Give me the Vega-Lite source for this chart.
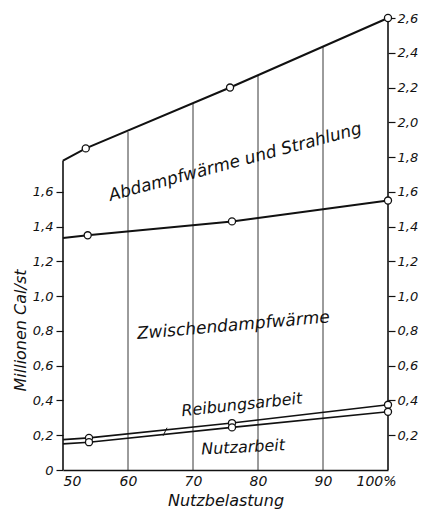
{
  "$schema": "https://vega.github.io/schema/vega-lite/v6.json",
  "width": 325,
  "height": 452,
  "autosize": {"type": "none"},
  "padding": {"left": 63, "top": 18, "right": 38, "bottom": 41},
  "background": "white",
  "config": {
    "font": "DejaVu Sans",
    "view": {"stroke": null},
    "axis": {
      "labelFont": "DejaVu Sans",
      "labelFontStyle": "italic",
      "labelFontSize": 13,
      "labelColor": "#111",
      "titleFont": "DejaVu Sans",
      "titleFontStyle": "italic",
      "titleFontWeight": "normal",
      "titleFontSize": 16,
      "titleColor": "#111",
      "tickColor": "#111",
      "domainColor": "#111"
    }
  },
  "datasets": {
    "curves": [
      {"series": "Abdampfwärme und Strahlung", "x": 50, "y": 1.78},
      {"series": "Abdampfwärme und Strahlung", "x": 53.5, "y": 1.85},
      {"series": "Abdampfwärme und Strahlung", "x": 75.7, "y": 2.2},
      {"series": "Abdampfwärme und Strahlung", "x": 100, "y": 2.6},
      {"series": "Zwischendampfwärme", "x": 50, "y": 1.335},
      {"series": "Zwischendampfwärme", "x": 53.8, "y": 1.35},
      {"series": "Zwischendampfwärme", "x": 76, "y": 1.43},
      {"series": "Zwischendampfwärme", "x": 100, "y": 1.55},
      {"series": "Reibungsarbeit", "x": 50, "y": 0.175},
      {"series": "Reibungsarbeit", "x": 54, "y": 0.185},
      {"series": "Reibungsarbeit", "x": 76, "y": 0.27},
      {"series": "Reibungsarbeit", "x": 100, "y": 0.375},
      {"series": "Nutzarbeit", "x": 50, "y": 0.15},
      {"series": "Nutzarbeit", "x": 54, "y": 0.16},
      {"series": "Nutzarbeit", "x": 76, "y": 0.245},
      {"series": "Nutzarbeit", "x": 100, "y": 0.335}
    ],
    "verticals": [
      {"kind": "frame", "x": 50, "top": 1.78},
      {"kind": "inner", "x": 60, "top": 1.944},
      {"kind": "inner", "x": 70, "top": 2.108},
      {"kind": "inner", "x": 80, "top": 2.272},
      {"kind": "inner", "x": 90, "top": 2.436},
      {"kind": "frame", "x": 100, "top": 2.6}
    ],
    "annotations": [
      {"text": "Abdampfwärme und Strahlung", "x": 76.5, "y": 1.77},
      {"text": "Zwischendampfwärme", "x": 76.2, "y": 0.83},
      {"text": "Reibungsarbeit", "x": 77.5, "y": 0.375},
      {"text": "Nutzarbeit", "x": 77.7, "y": 0.13}
    ],
    "pointer": [
      {"x": 65.4, "x2": 66.0, "y": 0.197, "y2": 0.243}
    ]
  },
  "encoding": {
    "x": {
      "field": "x",
      "type": "quantitative",
      "scale": {"domain": [50, 100], "nice": false, "zero": false},
      "axis": {
        "orient": "bottom",
        "values": [50, 60, 70, 80, 90, 100],
        "labelExpr": "datum.value == 100 ? '100%' : datum.label",
        "labelOffset": {"condition": {"test": "datum.value == 100", "value": 8}, "value": 0},
        "ticks": false,
        "grid": false,
        "domain": true,
        "domainWidth": 1.6,
        "labelPadding": 4,
        "labelFontSize": 14,
        "title": "Nutzbelastung",
        "titlePadding": 4
      }
    },
    "y": {
      "field": "y",
      "type": "quantitative",
      "scale": {"domain": [0, 2.6], "nice": false, "zero": false},
      "axis": null
    }
  },
  "layer": [
    {
      "data": {"name": "verticals"},
      "transform": [{"filter": "datum.kind == 'inner'"}],
      "mark": {"type": "rule", "color": "#222", "strokeWidth": 0.9},
      "encoding": {
        "y": {
          "field": "top",
          "type": "quantitative",
          "scale": {"domain": [0, 2.6], "nice": false, "zero": false},
          "axis": {
            "orient": "left",
            "values": [0, 0.2, 0.4, 0.6, 0.8, 1.0, 1.2, 1.4, 1.6],
            "labelExpr": "datum.value == 0 ? '0' : replace(format(datum.value, '.1f'), '.', ',')",
            "domain": false,
            "grid": false,
            "tickSize": 7,
            "tickWidth": 1.2,
            "labelPadding": 3,
            "title": "Millionen Cal/st",
            "titleY": 312,
            "titlePadding": 4
          }
        },
        "y2": {"datum": 0}
      }
    },
    {
      "data": {"name": "verticals"},
      "transform": [{"filter": "datum.kind == 'frame'"}],
      "mark": {"type": "rule", "color": "#111", "strokeWidth": 1.6},
      "encoding": {
        "y": {"field": "top", "type": "quantitative", "scale": {"domain": [0, 2.6], "nice": false, "zero": false}, "axis": null},
        "y2": {"datum": 0}
      }
    },
    {
      "data": {"name": "curves"},
      "transform": [{"filter": "datum.series == 'Abdampfwärme und Strahlung' || datum.series == 'Zwischendampfwärme'"}],
      "mark": {"type": "line", "color": "#111", "strokeWidth": 2},
      "encoding": {
        "detail": {"field": "series"},
        "y": {
          "field": "y",
          "type": "quantitative",
          "scale": {"domain": [0, 2.6], "nice": false, "zero": false},
          "axis": {
            "orient": "right",
            "values": [0.2, 0.4, 0.6, 0.8, 1.0, 1.2, 1.4, 1.6, 1.8, 2.0, 2.2, 2.4, 2.6],
            "labelExpr": "replace(format(datum.value, '.1f'), '.', ',')",
            "domain": false,
            "grid": false,
            "tickSize": 7,
            "tickWidth": 1.2,
            "labelPadding": 2,
            "title": null
          }
        }
      }
    },
    {
      "data": {"name": "curves"},
      "transform": [{"filter": "datum.series == 'Reibungsarbeit' || datum.series == 'Nutzarbeit'"}],
      "mark": {"type": "line", "color": "#111", "strokeWidth": 1.6},
      "encoding": {"detail": {"field": "series"}}
    },
    {
      "data": {"name": "curves"},
      "transform": [{"filter": "datum.x > 50"}],
      "mark": {"type": "point", "shape": "circle", "filled": true, "fill": "white", "stroke": "#111", "strokeWidth": 1.3, "size": 50, "opacity": 1},
      "encoding": {}
    },
    {
      "data": {"name": "annotations"},
      "transform": [{"filter": "datum.text == 'Abdampfwärme und Strahlung'"}],
      "mark": {"type": "text", "font": "DejaVu Sans", "fontStyle": "italic", "fontSize": 17, "angle": -15, "color": "#111"},
      "encoding": {"text": {"field": "text"}}
    },
    {
      "data": {"name": "annotations"},
      "transform": [{"filter": "datum.text == 'Zwischendampfwärme'"}],
      "mark": {"type": "text", "font": "DejaVu Sans", "fontStyle": "italic", "fontSize": 17, "angle": -5, "color": "#111"},
      "encoding": {"text": {"field": "text"}}
    },
    {
      "data": {"name": "annotations"},
      "transform": [{"filter": "datum.text == 'Reibungsarbeit'"}],
      "mark": {"type": "text", "font": "DejaVu Sans", "fontStyle": "italic", "fontSize": 16, "angle": -6, "color": "#111"},
      "encoding": {"text": {"field": "text"}}
    },
    {
      "data": {"name": "annotations"},
      "transform": [{"filter": "datum.text == 'Nutzarbeit'"}],
      "mark": {"type": "text", "font": "DejaVu Sans", "fontStyle": "italic", "fontSize": 16, "angle": -3, "color": "#111"},
      "encoding": {"text": {"field": "text"}}
    },
    {
      "data": {"name": "pointer"},
      "mark": {"type": "rule", "color": "#111", "strokeWidth": 1},
      "encoding": {"x2": {"field": "x2"}, "y2": {"field": "y2"}}
    }
  ],
  "resolve": {"scale": {"y": "independent"}}
}
